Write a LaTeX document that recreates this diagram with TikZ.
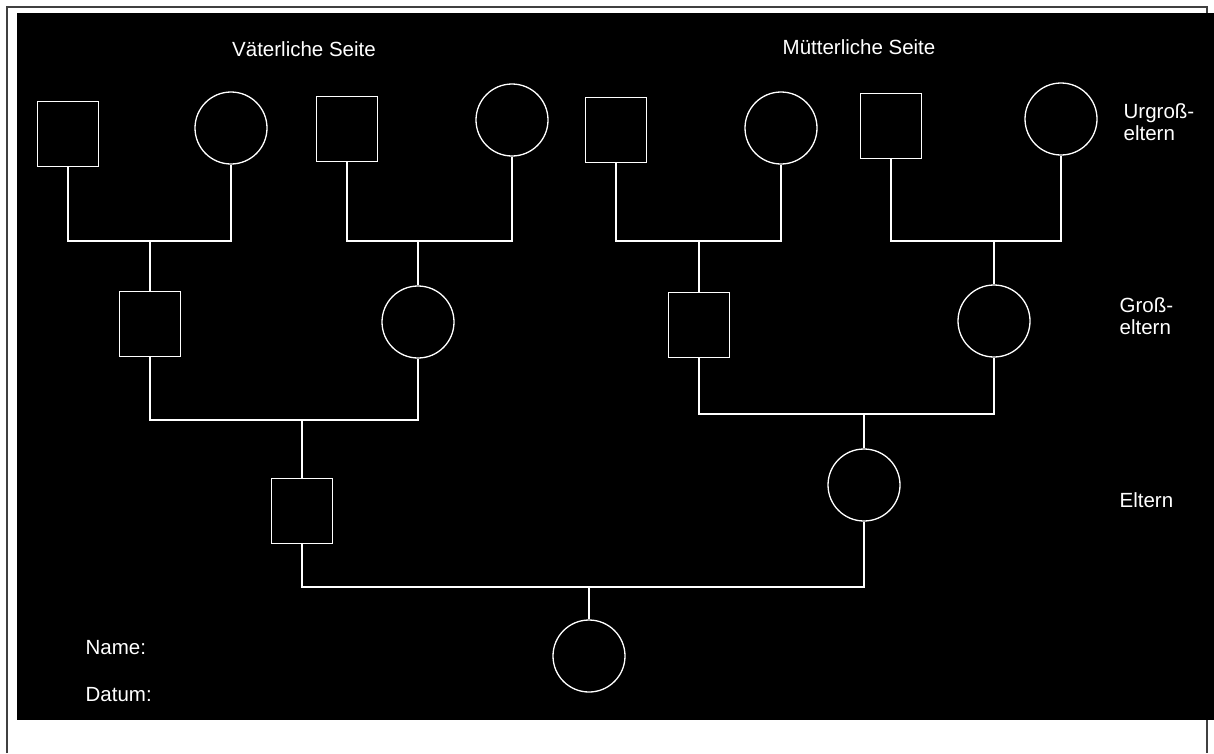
\documentclass[tikz,border=0pt]{standalone}
\usepackage{fontspec}
\setmainfont{Liberation Sans}
\usetikzlibrary{positioning}

\begin{document}
\begin{tikzpicture}[x=1pt,y=-1pt,line width=1.3pt,
  male/.style={draw=white, rectangle, minimum width=61pt, minimum height=65pt, inner sep=0pt},
  female/.style={draw=white, circle, minimum size=72pt, inner sep=0pt},
  beschr/.style={text=white, inner sep=0pt, align=left, font=\fontsize{20.5}{22}\selectfont},
  conn/.style={draw=white}]
\useasboundingbox (0,0) rectangle (1214,753);
%\draw[help lines] (0,0) grid (1214,753);
\draw [line width=2pt, black!75] (7,753) -- (7,7) -- (1207,7) -- (1207,753);
\fill [black] (17,13) rectangle (1214,720);

% Urgrosseltern
\node [male] (u1) at (68,134) {};
\node [female] (u2) at (231,128) {};
\node [male] (u3) at (347,129) {};
\node [female] (u4) at (512,120) {};
\node [male] (u5) at (616,130) {};
\node [female] (u6) at (781,128) {};
\node [male] (u7) at (891,126) {};
\node [female] (u8) at (1061,119) {};

% Grosseltern
\node [male] (g1) at (150,324) {};
\node [female] (g2) at (418,322) {};
\node [male] (g3) at (699,325) {};
\node [female] (g4) at (994,321) {};

% Eltern und Kind
\node [male] (e1) at (302,511) {};
\node [female] (e2) at (864,485) {};
\node [female] (kind) at (589,656) {};

\coordinate (o1) at (0,241);
\coordinate (o2) at (0,420);
\coordinate (o3) at (0,414);
\coordinate (o4) at (0,587);

\draw [conn] (u1.south) |- (g1.north |- o1) -| (u2.south);
\draw [conn] (g1.north) -- (g1.north |- o1);
\draw [conn] (u3.south) |- (g2.north |- o1) -| (u4.south);
\draw [conn] (g2.north) -- (g2.north |- o1);
\draw [conn] (u5.south) |- (g3.north |- o1) -| (u6.south);
\draw [conn] (g3.north) -- (g3.north |- o1);
\draw [conn] (u7.south) |- (g4.north |- o1) -| (u8.south);
\draw [conn] (g4.north) -- (g4.north |- o1);

\draw [conn] (g1.south) |- (e1.north |- o2) -| (g2.south);
\draw [conn] (e1.north) -- (e1.north |- o2);
\draw [conn] (g3.south) |- (e2.north |- o3) -| (g4.south);
\draw [conn] (e2.north) -- (e2.north |- o3);

\draw [conn] (e1.south) |- (kind.north |- o4) -| (e2.south);
\draw [conn] (kind.north) -- (kind.north |- o4);

\node [beschr] (vs) at (304,49) {Väterliche Seite};
\node [beschr] (ms) at (859,47) {Mütterliche Seite};
\node [beschr, anchor=north west] (lu) at (1123,103) {Urgroß-\\eltern};
\node [beschr, anchor=north west] (lg) at (1119,297) {Groß-\\eltern};
\node [beschr, anchor=north west] (le) at (1119,492) {Eltern};
\node [beschr, anchor=north west] (name) at (85,640) {Name:};
\node [beschr, anchor=north west] (datum) at (85,687) {Datum:};

\end{tikzpicture}
\end{document}
